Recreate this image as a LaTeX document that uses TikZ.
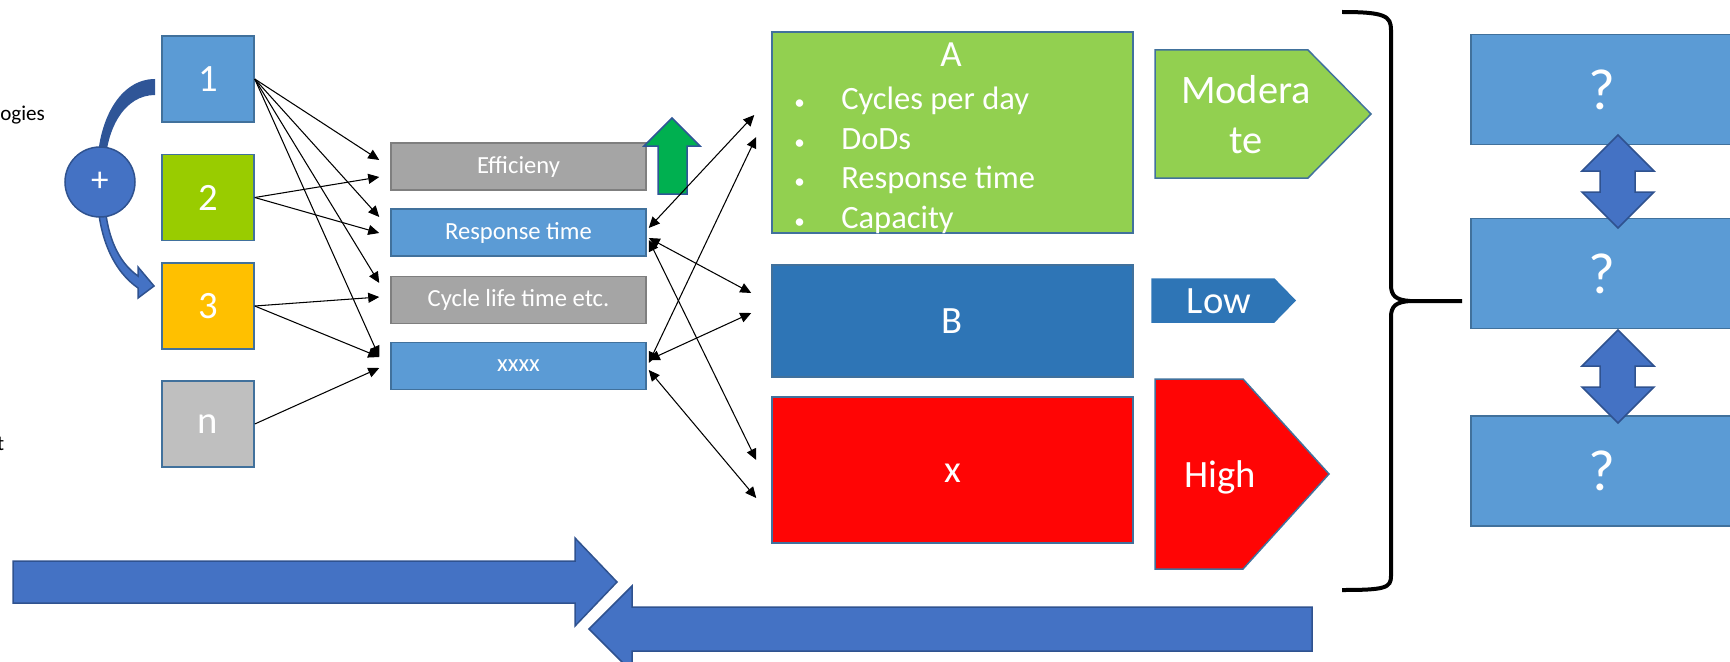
\documentclass[tikz,border=0pt]{standalone}
\usepackage{fontspec}
\setmainfont{Carlito}
\usepackage{tikz}
\usetikzlibrary{arrows.meta, positioning}

\definecolor{boxblue}{HTML}{5B9BD5}
\definecolor{edgeblue}{HTML}{41719C}
\definecolor{darkblue}{HTML}{2E75B6}
\definecolor{arrowblue}{HTML}{4472C4}
\definecolor{arrowedge}{HTML}{2F528F}
\definecolor{shadeblue}{HTML}{2F5597}
\definecolor{limegreen}{HTML}{99CC00}
\definecolor{leafgreen}{HTML}{92D050}
\definecolor{amber}{HTML}{FFC000}
\definecolor{lightgrey}{HTML}{BFBFBF}
\definecolor{midgrey}{HTML}{A5A5A5}
\definecolor{edgegrey}{HTML}{7F7F7F}
\definecolor{signalgreen}{HTML}{00B050}
\definecolor{brightred}{HTML}{FF0505}

\newcommand{\dotitem}{\makebox[26.7pt][l]{\fontsize{12}{12}\selectfont\textbullet}}

\begin{document}
\begin{tikzpicture}[x=0.2mm, y=-0.2mm,
    >={Triangle[length=2.2mm, width=2mm]},
    tile/.style={draw=edgeblue, line width=0.3mm, text=white, inner sep=0pt},
    numbox/.style={tile, minimum width=18.4mm, minimum height=17.2mm, font=\fontsize{22}{26}\selectfont},
    metric/.style={tile, minimum width=51mm, minimum height=9.4mm, font=\fontsize{14}{17}\selectfont},
    option/.style={tile, minimum width=72.2mm, text height=14.2pt, text depth=0pt, font=\fontsize{22}{26}\selectfont},
    query/.style={tile, fill=boxblue, minimum width=52.4mm, minimum height=22mm, font=\fontsize{33}{40}\selectfont},
    wtext/.style={text=white, inner sep=0pt},
    link/.style={line width=0.6pt},
    blockarrow/.style={fill=arrowblue, draw=arrowedge, line width=0.3mm}]
    \useasboundingbox (0,0) rectangle (1730,662);

    % Cut-off captions on the left margin
    \node[anchor=base west, inner sep=0pt, font=\fontsize{12}{14}\selectfont] (techs) at (0,121) {ogies};
    \node[anchor=base east, inner sep=0pt, font=\fontsize{12}{14}\selectfont] (cut) at (4.5,450) {t};

    % Curved combine arrow from 1 to 3, back half darker
    \fill[shadeblue] (155,79) .. controls (120,79) and (97,120) .. (97,172)
        -- (105,172) .. controls (105,128) and (125,95) .. (155,95) -- cycle;
    \filldraw[blockarrow] (97,190) .. controls (98,240) and (115,272) .. (138,288)
        -- (138,298) -- (154,286) -- (138,267) -- (138,276)
        .. controls (118,262) and (105,235) .. (104,190) -- cycle;
    \node[circle, blockarrow, minimum size=14mm, inner sep=0pt, text=white,
        font=\fontsize{20}{24}\selectfont] (plus) at (100,182) {+};

    % Technology tiles
    \node[numbox, fill=boxblue] (t1) at (208,79) {1};
    \node[numbox, fill=limegreen] (t2) at (208,197.5) {2};
    \node[numbox, fill=amber] (t3) at (208,306) {3};
    \node[numbox, fill=lightgrey] (tn) at (208,424) {n};

    % Criteria
    \node[metric, fill=midgrey, draw=edgegrey] (eff) at (518.5,166.5) {Efficieny};
    \node[metric, fill=boxblue] (resp) at (518.5,232.5) {Response time};
    \node[metric, fill=midgrey, draw=edgegrey] (cyc) at (518.5,300) {Cycle life time etc.};
    \node[metric, fill=boxblue] (xxxx) at (518.5,366) {xxxx};

    % Up arrow next to efficiency
    \filldraw[fill=signalgreen, draw=shadeblue, line width=0.3mm] (672,118) -- (700,146) -- (687,146)
        -- (687,194) -- (658,194) -- (658,146) -- (644,146) -- cycle;

    % Options
    \node[option, fill=leafgreen, minimum height=40.2mm] (boxA) at (952.5,132.5) {};
    \node[wtext, anchor=base, font=\fontsize{21}{25}\selectfont] (titleA) at (951,67) {A};
    \node[wtext, anchor=base west, font=\fontsize{18.5}{22.4}\selectfont] (listA) at (794,110) {%
        \begin{tabular}[t]{@{}l@{}}
            \dotitem Cycles per day\\
            \dotitem DoDs\\
            \dotitem Response time\\
            \dotitem Capacity
        \end{tabular}};
    \node[option, fill=darkblue, minimum height=22.4mm] (boxB) at (952.5,321) {B};
    \node[option, fill=brightred, minimum height=29.2mm] (boxX) at (952.5,470) {x};

    % Ratings
    \filldraw[fill=leafgreen, draw=edgeblue, line width=0.3mm] (1155,50) -- (1308,50) -- (1371,114)
        -- (1308,178) -- (1155,178) -- cycle;
    \node[wtext, anchor=base, font=\fontsize{23}{28.5}\selectfont] (moderate) at (1246,103)
        {\begin{tabular}[t]{@{}c@{}}Modera\\te\end{tabular}};
    \filldraw[fill=darkblue, draw=darkblue, line width=0.3mm] (1152,279) -- (1274,279) -- (1295,300.5)
        -- (1274,322) -- (1152,322) -- cycle;
    \node[wtext, anchor=base, font=\fontsize{22}{26}\selectfont] (low) at (1219,313) {Low};
    \filldraw[fill=brightred, draw=edgeblue, line width=0.3mm] (1155,379) -- (1243,379) -- (1329,474)
        -- (1243,569) -- (1155,569) -- cycle;
    \node[wtext, anchor=base, font=\fontsize{22}{26}\selectfont] (high) at (1220,487) {High};

    % Brace
    \draw[line width=0.8mm] (1342,12) .. controls (1385,12) and (1391,16) .. (1391,30) -- (1391,285)
        .. controls (1391,296) and (1396,300) .. (1410,301) -- (1462,301);
    \draw[line width=0.8mm] (1410,301) .. controls (1396,302) and (1391,306) .. (1391,317)
        -- (1391,576) .. controls (1391,588) and (1385,590) .. (1342,590);

    % Open questions
    \node[query] (q1) at (1602,89.5) {?};
    \node[query] (q2) at (1602,273.5) {?};
    \node[query] (q3) at (1602,471) {?};
    \foreach \dy in {0,195}
        \filldraw[blockarrow, shift={(0,\dy)}] (1618,135) -- (1654,171) -- (1635,171) -- (1635,192)
            -- (1654,192) -- (1618,228) -- (1582,192) -- (1600,192) -- (1600,171) -- (1582,171) -- cycle;

    % Flow arrows along the bottom
    \filldraw[blockarrow] (13,561) -- (575,561) -- (575,538) -- (617,582) -- (575,626) -- (575,603)
        -- (13,603) -- cycle;
    \filldraw[blockarrow] (1312,607) -- (632,607) -- (632,586) -- (589,629) -- (632,672) -- (632,651)
        -- (1312,651) -- cycle;

    % Tiles to criteria
    \draw[link, ->] (t1.east) -- ([shift={(-11,-6.5)}]eff.west);
    \draw[link, ->] (t1.east) -- ([shift={(-11,-15.5)}]resp.west);
    \draw[link, ->] (t1.east) -- ([shift={(-11,-17)}]cyc.west);
    \draw[link, ->] (t1.east) -- ([shift={(-11,-9)}]xxxx.west);
    \draw[link, ->] (t2.east) -- ([shift={(-11,10.5)}]eff.west);
    \draw[link, ->] (t2.east) -- ([shift={(-11,0.5)}]resp.west);
    \draw[link, ->] (t3.east) -- ([shift={(-11,-3)}]cyc.west);
    \draw[link, ->] (t3.east) -- ([shift={(-11,-9)}]xxxx.west);
    \draw[link, ->] (tn.east) -- ([shift={(-11,2)}]xxxx.west);

    % Criteria to options
    \draw[link, <->] ([shift={(2,-4.5)}]resp.east) -- ([shift={(-17,-17.5)}]boxA.west);
    \draw[link, <->] ([shift={(2,5.5)}]resp.east) -- ([shift={(-20,-28)}]boxB.west);
    \draw[link, <->] ([shift={(2,7.5)}]resp.east) -- ([shift={(-15,-10)}]boxX.west);
    \draw[link, <->] ([shift={(2,-3)}]xxxx.east) -- ([shift={(-15,4.5)}]boxA.west);
    \draw[link, <->] ([shift={(2,-6)}]xxxx.east) -- ([shift={(-20,-8)}]boxB.west);
    \draw[link, <->] ([shift={(2,4)}]xxxx.east) -- ([shift={(-15,28)}]boxX.west);
\end{tikzpicture}
\end{document}
